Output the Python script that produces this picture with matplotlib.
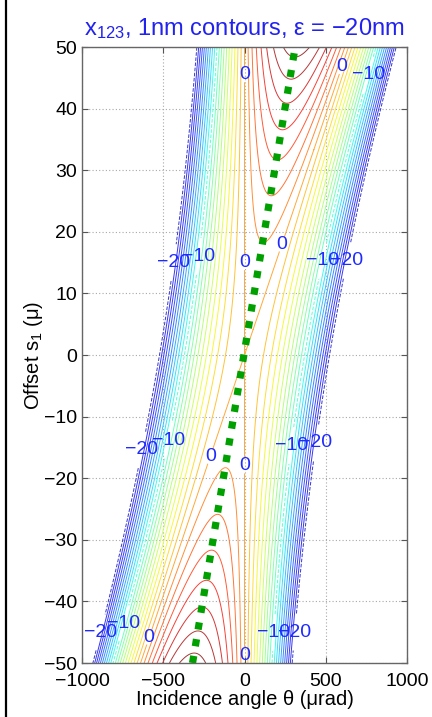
import numpy as np
import matplotlib
matplotlib.use("Agg")
import matplotlib.pyplot as plt
from matplotlib.colors import Normalize
from matplotlib.lines import Line2D

plt.rcParams["font.family"] = ["Liberation Sans", "DejaVu Sans"]
plt.rcParams["mathtext.fontset"] = "custom"
plt.rcParams["mathtext.rm"] = "Liberation Sans"
plt.rcParams["mathtext.it"] = "Liberation Sans"
plt.rcParams["axes.unicode_minus"] = True

# saddle model: x123(theta, s1) = curvature * theta * (2 * ridge_slope * s1 - theta)
curvature = 7.3e-5      # nm per urad^2
ridge_slope = 6.4       # urad per micron of offset
contour_levels = list(range(-20, 8))   # 1 nm spacing
theta_range = (-1000, 1000)
offset_range = (-50, 50)

# zero-error line (theta vs offset)
ridge_theta = [-320, 312]
ridge_offset = [-50, 50]

# where the level labels sit (theta, s1)
label_points = {
    0: [(-9, 45.5), (575, 47), (3, 15), (225, 18), (-200, -16.6),
        (-15, -18), (-594, -45.8), (-9, -48.7)],
    -10: [(754, 45.6), (-274, 16), (465, 15.4), (-428, -14.1),
          (262, -14.6), (-705, -43.8), (138, -45)],
    -20: [(-434, 15), (625, 15.4), (-631, -15.4), (452, -14.3),
          (-889, -45), (323, -45)],
}

x_ticks = [-1000, -500, 0, 500, 1000]
y_ticks = list(range(-50, 51, 10))

theta = np.linspace(theta_range[0], theta_range[1], 1201)
offset = np.linspace(offset_range[0], offset_range[1], 601)
T, S = np.meshgrid(theta, offset)
X123 = curvature * T * (2 * ridge_slope * S - T)

fig = plt.figure(figsize=(4.32, 7.17), dpi=100)
ax = fig.add_axes([0.190, 0.0753, 0.752, 0.859])

norm = Normalize(-21.5, 7)
jet = plt.get_cmap("jet")
line_w = 0.7


def level_color(lv, fade=0.22):
    r, g, b, _ = jet(norm(lv))
    return (r + (1 - r) * fade, g + (1 - g) * fade, b + (1 - b) * fade)


plain_levels = [lv for lv in contour_levels if lv not in label_points]
ax.contour(T, S, X123, levels=plain_levels,
           colors=[level_color(lv) for lv in plain_levels], linewidths=line_w)


def fmt(v):
    return f"{v:.0f}".replace("-", "\u2212")


for lvl, pts in label_points.items():
    cl = ax.contour(T, S, X123, levels=[lvl], colors=[level_color(lvl)],
                    linewidths=line_w)
    texts = cl.clabel(manual=pts, inline=True, inline_spacing=2, fmt=fmt,
                      colors="#1f2aff", fontsize=14)
    for t in texts:
        t.set_rotation(0)

ax.plot(ridge_theta, ridge_offset, color="#00a000", lw=5.2,
        linestyle=(0, (1.0, 1.35)), solid_capstyle="butt",
        dash_capstyle="butt", zorder=5)

ax.set_xlim(*theta_range)
ax.set_ylim(*offset_range)
ax.set_xticks(x_ticks)
ax.set_yticks(y_ticks)
ax.grid(True, linestyle=(0, (1, 2)), color="#a8a8a8", lw=0.8)
ax.set_axisbelow(True)
ax.tick_params(direction="in", top=True, right=True, length=4,
               color="#555555", labelsize=14)
ax.tick_params(axis="x", pad=7)
ax.tick_params(axis="y", pad=3.5)
for sp in ax.spines.values():
    sp.set_color("#666666")
    sp.set_linewidth(1.0)

ax.set_xlabel("Incidence angle \u03b8 (\u03bcrad)", fontsize=14.5, labelpad=0)
ax.set_ylabel("Offset s$_1$ (\u03bc)", fontsize=14.5, labelpad=-1)
ax.set_title("x$_{123}$, 1nm contours, \u03b5 = \u221220nm", fontsize=17,
             color="#2222ee", pad=9)

fig.add_artist(Line2D([0.0139, 0.0139], [0, 1], transform=fig.transFigure,
                      color="black", lw=1.6))

fig.savefig("out.png", dpi=100)
